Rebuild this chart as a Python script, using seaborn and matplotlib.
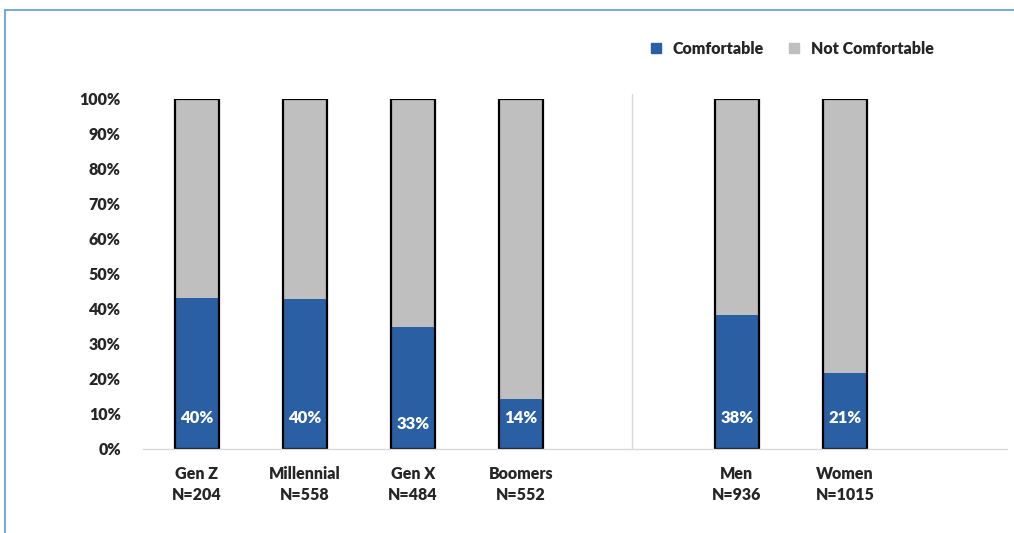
import matplotlib
matplotlib.use("Agg")
import matplotlib.pyplot as plt
from matplotlib.lines import Line2D
import pandas as pd
import seaborn as sns

# survey data
groups = ["Gen Z", "Millennial", "Gen X", "Boomers", "Men", "Women"]
sizes = ["N=204", "N=558", "N=484", "N=552", "N=936", "N=1015"]
comfortable = [43.1, 42.9, 34.9, 14.3, 38.3, 21.7]
labels = ["40%", "40%", "33%", "14%", "38%", "21%"]
# slot order with empty gaps between the two panels and at the end
order = ["Gen Z", "Millennial", "Gen X", "Boomers", "gap", "Men", "Women", "end"]
label_y = [8.8, 8.8, 7.0, 8.8, 8.8, 8.8]

blue = "#2A5FA3"
grey = "#BFBFBF"

sns.set_style("white")
plt.rcParams["font.family"] = ["Lato", "DejaVu Sans"]
plt.rcParams["font.weight"] = "heavy"

df = pd.DataFrame({"group": groups, "comfortable": comfortable, "total": [100] * len(groups)})

fig = plt.figure(figsize=(10.14, 5.33), dpi=100)
ax = fig.add_axes([0.141, 0.1576, 0.852, 0.6567])

sns.barplot(data=df, x="group", y="total", order=order, color=grey, width=0.41,
            saturation=1, linewidth=0, ax=ax)
sns.barplot(data=df, x="group", y="comfortable", order=order, color=blue, width=0.41,
            saturation=1, linewidth=0, ax=ax)
sns.barplot(data=df, x="group", y="total", order=order, width=0.41, fill=False,
            edgecolor="black", linewidth=1.6, ax=ax)

for i, g in enumerate(groups):
    ax.text(order.index(g), label_y[i], labels[i], ha="center", va="center",
            color="white", fontsize=12, fontweight="heavy")

ax.set_ylim(0, 100)
ax.set_xlim(-0.5, 7.5)
ax.set_yticks(range(0, 101, 10))
ax.set_yticklabels([f"{v}%" for v in range(0, 101, 10)], fontsize=11.5, fontweight="heavy")
ax.set_xticks(range(len(order)))
xt = []
for o in order:
    if o in groups:
        xt.append(o + "\n" + sizes[groups.index(o)])
    else:
        xt.append("")
ax.set_xticklabels(xt, fontsize=11.5, fontweight="heavy", linespacing=1.4)
ax.tick_params(axis="both", length=0)
ax.tick_params(axis="y", pad=16)
ax.tick_params(axis="x", pad=12)
ax.set_xlabel("")
ax.set_ylabel("")
for s in ["top", "right", "left"]:
    ax.spines[s].set_visible(False)
ax.spines["bottom"].set_color("#D9D9D9")
ax.spines["bottom"].set_linewidth(1)

# separator between generations and gender
ax.axvline(4.03, ymin=0, ymax=1.015, color="#D9D9D9", linewidth=1, clip_on=False)

handles = [Line2D([0], [0], marker="s", linestyle="", markersize=7, color=blue),
           Line2D([0], [0], marker="s", linestyle="", markersize=7, color=grey)]
fig.legend(handles, ["Comfortable", "Not Comfortable"], loc="center",
           bbox_to_anchor=(0.776, 0.909), ncol=2, frameon=False, fontsize=11.5,
           handletextpad=0.05, columnspacing=0.9)

# outer frame of the slide
fig.add_artist(Line2D([5 / 1014, 1], [1 - 10 / 533, 1 - 10 / 533], color="#5B9BD5", linewidth=1.2))
fig.add_artist(Line2D([5 / 1014, 5 / 1014], [0, 1 - 10 / 533], color="#5B9BD5", linewidth=1.2))

fig.savefig("out.png", dpi=100)
